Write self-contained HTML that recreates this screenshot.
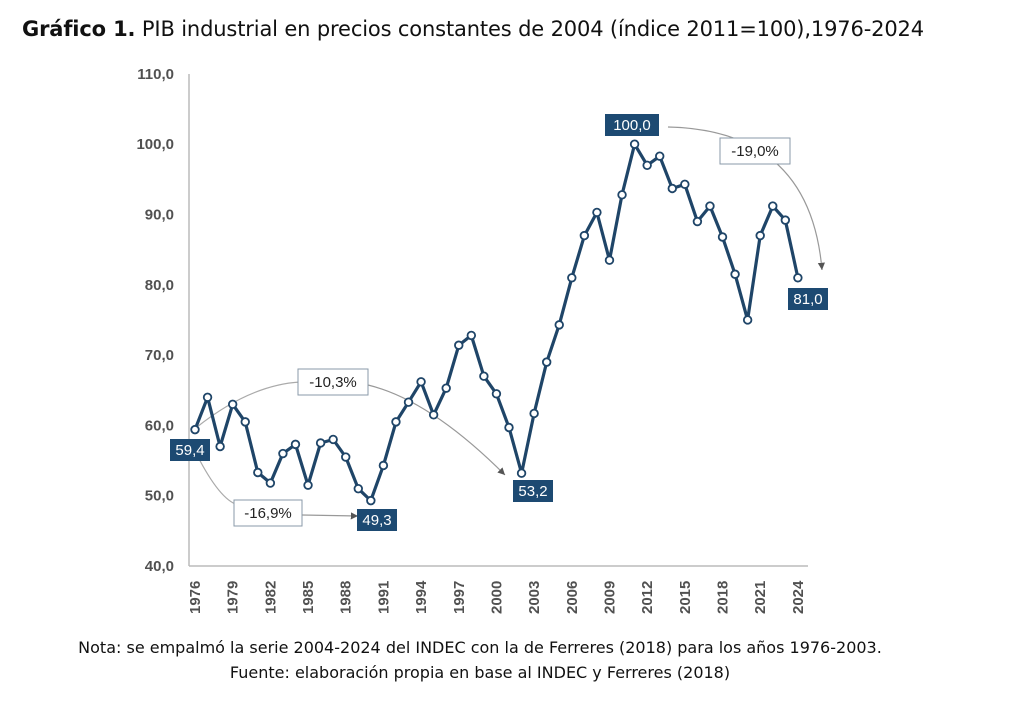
<!DOCTYPE html>
<html><head><meta charset="utf-8"><style>
body{margin:0;background:#fff;width:1010px;height:711px;overflow:hidden;font-family:"Liberation Sans",sans-serif}
.t{position:absolute;left:22px;top:17px;font-size:21px;color:#111;font-family:"DejaVu Sans","Liberation Sans",sans-serif;letter-spacing:-0.15px}
.n{position:absolute;width:1010px;text-align:center;font-size:16px;color:#111;font-family:"DejaVu Sans","Liberation Sans",sans-serif}
</style></head><body>
<div class="t"><b>Gráfico 1.</b> PIB industrial en precios constantes de 2004 (índice 2011=100),1976-2024</div>
<svg id="s" width="1010" height="711" style="position:absolute;left:0;top:0"></svg>
<div class="n" style="top:638px;left:-25px">Nota: se empalmó la serie 2004-2024 del INDEC con la de Ferreres (2018) para los años 1976-2003.</div>
<div class="n" style="top:663px;left:-25px">Fuente: elaboración propia en base al INDEC y Ferreres (2018)</div>
<script>
var d=[59.4,64,57,63,60.5,53.3,51.8,56,57.3,51.5,57.5,58,55.5,51,49.3,54.3,60.5,63.3,66.2,61.5,65.3,71.4,72.8,67,64.5,59.7,53.2,61.7,69,74.3,81,87,90.3,83.5,92.8,100,97,98.3,93.7,94.3,89,91.2,86.8,81.5,75,87,91.2,89.2,81];
function X(i){return 195+i*12.56}function Y(v){return 566-(v-40)*7.03}
var h='';
h+='<line x1="189" y1="74" x2="189" y2="566" stroke="#bbb" stroke-width="1.5"/><line x1="189" y1="566" x2="808" y2="566" stroke="#bbb" stroke-width="1.5"/>';
for(var v=40;v<=110;v+=10)h+='<text x="174" y="'+(Y(v)+5)+'" text-anchor="end" font-size="15" fill="#333" font-weight="bold" opacity="0.85">'+v+',0</text>';
for(var i=0;i<d.length;i+=3){var x=X(i)+5;h+='<text transform="translate('+x+',614) rotate(-90)" font-size="15" font-weight="bold" fill="#333" opacity="0.85">'+(1976+i)+'</text>';}
h+='<defs><marker id="a" markerWidth="8" markerHeight="8" refX="6" refY="3" orient="auto"><path d="M0,0L6,3L0,6z" fill="#555"/></marker></defs>';
h+='<path d="M197,427 Q250,385 300,382" fill="none" stroke="#aaa" stroke-width="1.2"/>';
h+='<path d="M368,385 Q430,400 505,475" fill="none" stroke="#999" stroke-width="1.2" marker-end="url(#a)"/>';
h+='<path d="M197,455 Q220,500 238,505" fill="none" stroke="#aaa" stroke-width="1.2"/>';
h+='<path d="M302,515 L358,516" fill="none" stroke="#999" stroke-width="1.2" marker-end="url(#a)"/>';
h+='<path d="M668,127 Q810,130 822,270" fill="none" stroke="#999" stroke-width="1.2" marker-end="url(#a)"/>';
var p=d.map(function(v,i){return X(i).toFixed(1)+','+Y(v).toFixed(1)}).join(' ');
h+='<polyline points="'+p+'" fill="none" stroke="#1f4568" stroke-width="3.2" stroke-linejoin="round"/>';
d.forEach(function(v,i){h+='<circle cx="'+X(i)+'" cy="'+Y(v)+'" r="3.8" fill="#fff" stroke="#1f4568" stroke-width="1.8"/>';});
function dark(x,y,w,t){h+='<rect x="'+x+'" y="'+y+'" width="'+w+'" height="22" fill="#1d4a72"/><text x="'+(x+w/2)+'" y="'+(y+16)+'" text-anchor="middle" font-size="15" fill="#fff">'+t+'</text>';}
function lite(x,y,w,t){h+='<rect x="'+x+'" y="'+y+'" width="'+w+'" height="26" fill="#fff" stroke="#8a9aa8" stroke-width="1"/><text x="'+(x+w/2)+'" y="'+(y+18)+'" text-anchor="middle" font-size="15" fill="#222">'+t+'</text>';}
dark(170,439,40,'59,4');dark(357,509,40,'49,3');dark(513,480,40,'53,2');dark(605,114,54,'100,0');dark(788,288,40,'81,0');
lite(298,369,70,'-10,3%');lite(234,500,68,'-16,9%');lite(720,138,70,'-19,0%');
document.getElementById('s').innerHTML=h;
</script>
</body></html>
